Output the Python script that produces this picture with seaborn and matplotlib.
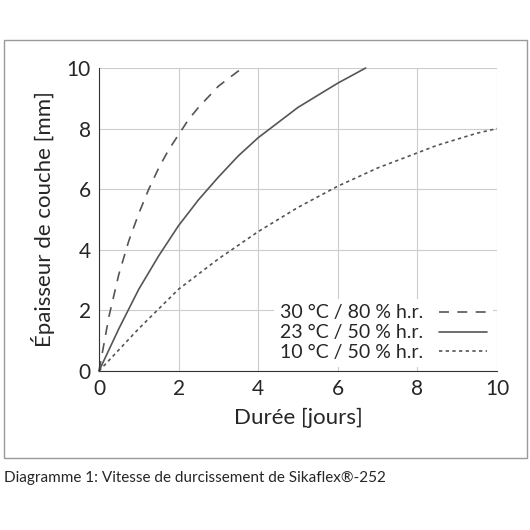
import numpy as np
import pandas as pd
import matplotlib
matplotlib.use("Agg")
import matplotlib.pyplot as plt
import seaborn as sns
from matplotlib.patches import Rectangle

# Data
t_30 = [0, 0.25, 0.5, 0.75, 1.0, 1.25, 1.5, 1.75, 2.0, 2.25, 2.5, 2.75, 3.0, 3.3, 3.6]
h_30 = [0, 1.8, 3.2, 4.3, 5.2, 6.0, 6.7, 7.3, 7.8, 8.3, 8.7, 9.05, 9.4, 9.7, 10.0]
t_23 = [0, 0.5, 1, 1.5, 2, 2.5, 3, 3.5, 4, 4.5, 5, 5.5, 6, 6.35, 6.7]
h_23 = [0, 1.4, 2.7, 3.8, 4.8, 5.65, 6.4, 7.1, 7.7, 8.2, 8.7, 9.1, 9.5, 9.75, 10.0]
t_10 = [0, 0.5, 1, 1.5, 2, 2.5, 3, 3.5, 4, 4.5, 5, 5.5, 6, 6.5, 7, 7.5, 8, 8.5, 9, 9.5, 10]
h_10 = [0, 0.7, 1.4, 2.05, 2.7, 3.2, 3.7, 4.15, 4.6, 5.0, 5.4, 5.75, 6.1, 6.4, 6.7,
        6.95, 7.2, 7.45, 7.65, 7.85, 8.0]
labels = ["30 °C / 80 % h.r.", "23 °C / 50 % h.r.", "10 °C / 50 % h.r."]

sns.set_style("white")
plt.rcParams["font.family"] = ["Lato", "DejaVu Sans"]

fig = plt.figure(figsize=(5.3, 5.3), dpi=100)
fig.patches.append(Rectangle((4 / 530, 1 - 458 / 530), 523 / 530, 418 / 530,
                             transform=fig.transFigure, fill=False,
                             edgecolor="#999999", linewidth=1))
ax = fig.add_axes([99 / 530, 1 - 371 / 530, 398 / 530, 303 / 530])

sns.lineplot(x=t_30, y=h_30, ax=ax, color="#555555", linewidth=1.2,
             linestyle=(0, (6, 5)), label=labels[0])
sns.lineplot(x=t_23, y=h_23, ax=ax, color="#555555", linewidth=1.2,
             linestyle="-", label=labels[1])
sns.lineplot(x=t_10, y=h_10, ax=ax, color="#555555", linewidth=1.2,
             linestyle=(0, (2, 2)), label=labels[2])

ax.set_xlim(0, 10)
ax.set_ylim(0, 10)
ax.set_xticks(range(0, 11, 2))
ax.set_yticks(range(0, 11, 2))
ax.grid(True, color="#cccccc", linewidth=0.8)
for s in ax.spines.values():
    s.set_visible(False)
ax.spines["left"].set_visible(True)
ax.spines["bottom"].set_visible(True)
ax.spines["left"].set_color("#333333")
ax.spines["bottom"].set_color("#333333")
ax.tick_params(labelsize=15, length=0, pad=6)
for ln in ax.get_lines():
    ln.set_clip_on(False)
ax.set_xlabel("Durée [jours]", fontsize=16, labelpad=6)
ax.set_ylabel("Épaisseur de couche [mm]", fontsize=16, labelpad=8)

leg = ax.legend(loc="lower right", fontsize=14, frameon=True, fancybox=False,
                edgecolor="none", framealpha=1, markerfirst=False,
                handlelength=2.5, borderaxespad=0.2, labelspacing=0.15,
                borderpad=0.3)

fig.text(4 / 530, 1 - 478 / 530, "Diagramme 1: Vitesse de durcissement de Sikaflex®-252",
         fontsize=11, va="center", ha="left")

fig.savefig("out.png", dpi=100)
